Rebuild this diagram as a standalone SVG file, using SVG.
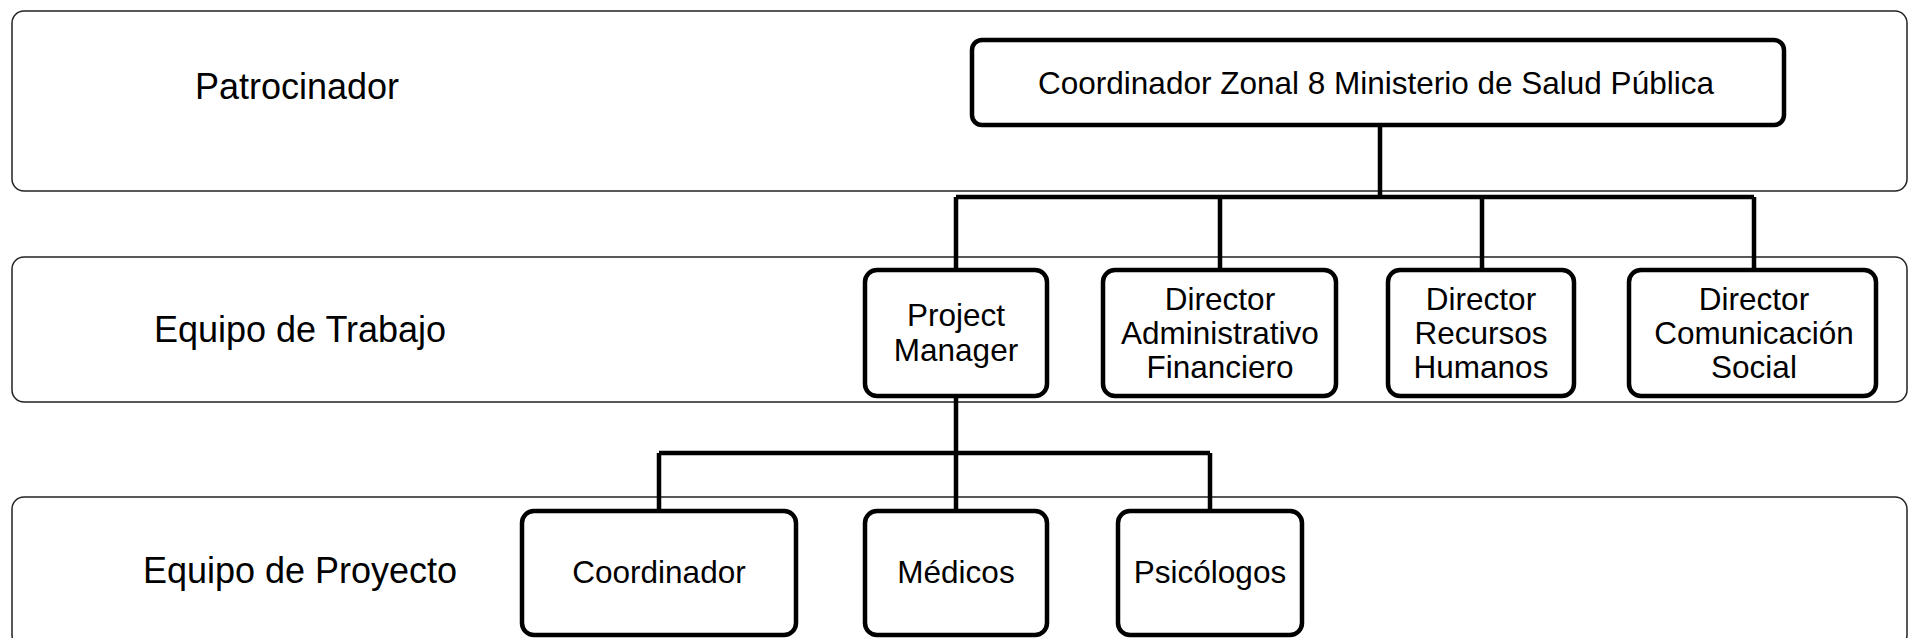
<svg xmlns="http://www.w3.org/2000/svg" width="1909" height="638" viewBox="0 0 1909 638">
<style>
.band{fill:#fff;stroke:#222;stroke-width:1.5}
.node{fill:#fff;stroke:#000;stroke-width:4.5}
.conn{fill:none;stroke:#000;stroke-width:4.5}
text{font-family:"Liberation Sans",Arial,sans-serif;fill:#000}
.bl{font-size:36px;text-anchor:middle}
.nt{font-size:31.5px;text-anchor:middle}
</style>
<rect width="1909" height="638" fill="#fff"/>
<g id="bands">
<g id="band-patrocinador"><rect class="band" x="12" y="11" width="1895" height="180" rx="12"/><text class="bl" x="297" y="99">Patrocinador</text></g>
<g id="band-trabajo"><rect class="band" x="12" y="257" width="1895" height="145" rx="12"/><text class="bl" x="300" y="342">Equipo de Trabajo</text></g>
<g id="band-proyecto"><rect class="band" x="12" y="497" width="1895" height="150" rx="12"/><text class="bl" x="300" y="583">Equipo de Proyecto</text></g>
</g>
<g id="connectors">
<path class="conn" d="M1380,125V197M956,197H1754M956,197V270M1220,197V270M1482,197V270M1754,197V270"/>
<path class="conn" d="M956,396V511M659,453H1210M659,453V511M1210,453V511"/>
</g>
<g id="n-coordzonal"><rect class="node" x="972" y="40" width="812" height="85" rx="10"/><text class="nt" x="1376" y="94">Coordinador Zonal 8 Ministerio de Salud Pública</text></g>
<g id="n-pm"><rect class="node" x="865" y="270" width="182" height="126" rx="12"/><text class="nt" x="956" y="326">Project</text><text class="nt" x="956" y="361">Manager</text></g>
<g id="n-admin"><rect class="node" x="1103" y="270" width="233" height="126" rx="12"/><text class="nt" x="1220" y="310">Director</text><text class="nt" x="1220" y="344">Administrativo</text><text class="nt" x="1220" y="378">Financiero</text></g>
<g id="n-rrhh"><rect class="node" x="1388" y="270" width="186" height="126" rx="12"/><text class="nt" x="1481" y="310">Director</text><text class="nt" x="1481" y="344">Recursos</text><text class="nt" x="1481" y="378">Humanos</text></g>
<g id="n-com"><rect class="node" x="1629" y="270" width="247" height="126" rx="12"/><text class="nt" x="1754" y="310">Director</text><text class="nt" x="1754" y="344">Comunicación</text><text class="nt" x="1754" y="378">Social</text></g>
<g id="n-coord"><rect class="node" x="522" y="511" width="274" height="124" rx="12"/><text class="nt" x="659" y="583">Coordinador</text></g>
<g id="n-medicos"><rect class="node" x="865" y="511" width="182" height="124" rx="12"/><text class="nt" x="956" y="583">Médicos</text></g>
<g id="n-psico"><rect class="node" x="1118" y="511" width="184" height="124" rx="12"/><text class="nt" x="1210" y="583">Psicólogos</text></g>
</svg>
